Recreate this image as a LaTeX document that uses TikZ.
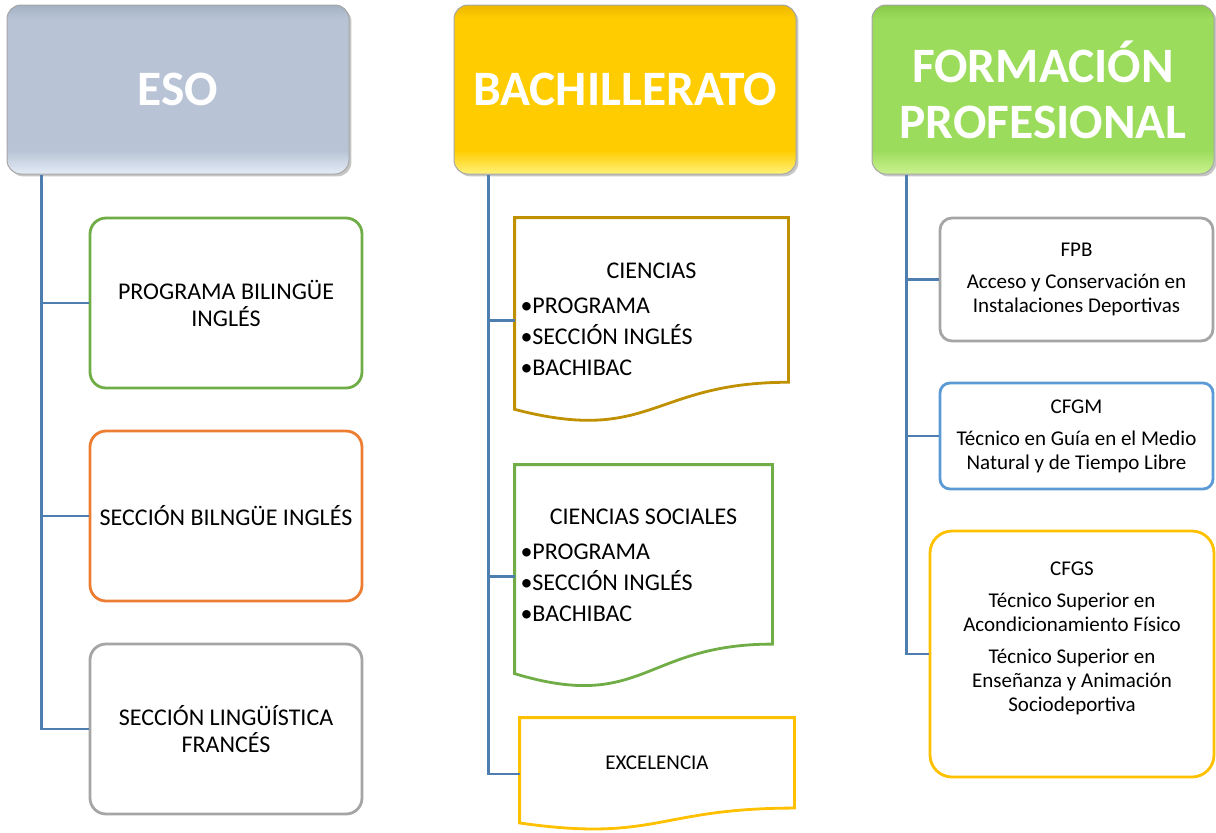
\documentclass[tikz,border=0pt]{standalone}
\usepackage{fontspec}
\setmainfont{Carlito}
\usetikzlibrary{positioning,calc,shadows}

\definecolor{esoB}{HTML}{B8C4D6}
\definecolor{esoT}{HTML}{A3B0C3}
\definecolor{esoL}{HTML}{E4ECF6}
\definecolor{bacB}{HTML}{FFCC00}
\definecolor{bacT}{HTML}{EDB800}
\definecolor{bacL}{HTML}{FFF27A}
\definecolor{fpB}{HTML}{9CDC5C}
\definecolor{fpT}{HTML}{89C94A}
\definecolor{fpL}{HTML}{CBF290}
\definecolor{trunk}{HTML}{4E7EB0}
\definecolor{cgreen}{HTML}{70AD47}
\definecolor{corange}{HTML}{ED7D31}
\definecolor{cgray}{HTML}{A5A5A5}
\definecolor{cgold}{HTML}{BF9000}
\definecolor{cyellow}{HTML}{FFC000}
\definecolor{cblue}{HTML}{5B9BD5}

\pgfdeclareverticalshading{esoshade}{100bp}{color(0bp)=(esoL); color(25bp)=(esoL); color(32bp)=(esoB); color(71bp)=(esoB); color(75bp)=(esoT); color(100bp)=(esoT)}
\pgfdeclareverticalshading{bacshade}{100bp}{color(0bp)=(bacL); color(25bp)=(bacL); color(32bp)=(bacB); color(71bp)=(bacB); color(75bp)=(bacT); color(100bp)=(bacT)}
\pgfdeclareverticalshading{fpshade}{100bp}{color(0bp)=(fpL); color(25bp)=(fpL); color(32bp)=(fpB); color(71bp)=(fpB); color(75bp)=(fpT); color(100bp)=(fpT)}

% wavy "document" outline round a node
\newcommand{\docpath}[2]{%
  \draw[line width=1.4pt, draw=#2] (#1.north west) -- (#1.north east)
    -- ($(#1.north east)!0.802!(#1.south east)$)
    .. controls ($(#1.north)!0.802!(#1.south)$) and ($(#1.north)!1.1075!(#1.south)$)
    .. ($(#1.north west)!0.934!(#1.south west)$) -- cycle;}

\begin{document}
\begin{tikzpicture}[
  x=0.5pt, y=-0.5pt,
  hdr/.style={rounded corners=7pt, minimum width=171pt, minimum height=84.5pt,
    draw=black!35, line width=0.5pt, text=white, align=center,
    font=\fontsize{24.75}{28}\selectfont\bfseries,
    drop shadow={shadow xshift=1.2pt, shadow yshift=-1.2pt, opacity=0.45}},
  esobox/.style={draw=#1, line width=1.4pt, rounded corners=8pt,
    minimum width=136pt, minimum height=85pt, align=center,
    font=\fontsize{12}{13.5}\selectfont},
  docbox/.style={inner sep=0pt},
  doctxt/.style={inner sep=0pt, align=left, font=\fontsize{12}{15.5}\selectfont},
  fpbox/.style={draw=#1, line width=1.4pt, minimum width=136.5pt, align=center,
    font=\fontsize{10.5}{12}\selectfont},
  fptxt/.style={align=center, font=\fontsize{10.5}{12}\selectfont},
  conn/.style={draw=trunk, line width=1.4pt}
]
\useasboundingbox (0,0) rectangle (1216,832);

% headers
\node[hdr, shading=esoshade] (eso) at (178,89.5) {ESO};
\node[hdr, shading=bacshade] (bach) at (625,89.5) {BACHILLERATO};
\node[hdr, shading=fpshade] (fp) at (1043,89.5) {FORMACIÓN\\PROFESIONAL};

% ESO
\node[esobox=cgreen] (e1) at (226,303) {PROGRAMA BILINGÜE\\INGLÉS};
\node[esobox=corange] (e2) at (226,516) {SECCIÓN BILNGÜE INGLÉS};
\node[esobox=cgray] (e3) at (226,729) {SECCIÓN LINGÜÍSTICA\\FRANCÉS};

\draw[conn] ([xshift=17.5pt]eso.south west) |- (e1.west);
\draw[conn] ([xshift=17.5pt]eso.south west) |- (e2.west);
\draw[conn] ([xshift=17.5pt]eso.south west) |- (e3.west);

% Bachillerato
\node[docbox, minimum width=136.5pt, minimum height=102.25pt] (b1) at (651.5,320.25) {};
\node[docbox, minimum width=128.5pt, minimum height=111.5pt] (b2) at (643.5,576.5) {};
\node[docbox, minimum width=137pt, minimum height=56pt] (b3) at (657,774) {};
\docpath{b1}{cgold}
\docpath{b2}{cgreen}
\docpath{b3}{cyellow}

\node[doctxt, text width=131pt] (b1t) at ([yshift=0.5pt]b1.center)
  {\spaceskip=0pt\relax\makebox[131pt]{CIENCIAS}\\[2pt]\textbullet PROGRAMA\\\textbullet SECCIÓN INGLÉS\\\textbullet BACHIBAC};
\node[doctxt, text width=123pt] (b2t) at ([yshift=5.5pt]b2.center)
  {\spaceskip=0pt\relax\makebox[123pt]{CIENCIAS SOCIALES}\\[2pt]\textbullet PROGRAMA\\\textbullet SECCIÓN INGLÉS\\\textbullet BACHIBAC};
\node[fptxt] (b3t) at ([yshift=5.5pt]b3.center) {EXCELENCIA};

\draw[conn] ([xshift=17.5pt]bach.south west) |- (b1.west);
\draw[conn] ([xshift=17.5pt]bach.south west) |- (b2.west);
\draw[conn] ([xshift=17.5pt]bach.south west) |- (b3.west);

% Formacion profesional
\node[fpbox=cgray, rounded corners=6pt, minimum height=61.5pt] (f1) at (1076.5,279.5)
  {FPB\\[4pt]Acceso y Conservación en\\Instalaciones Deportivas};
\node[fpbox=cblue, rounded corners=5pt, minimum height=53pt] (f2) at (1076.5,436)
  {CFGM\\[4pt]Técnico en Guía en el Medio\\Natural y de Tiempo Libre};
\node[fpbox=cyellow, rounded corners=11pt, minimum width=142pt, minimum height=123pt] (f3) at (1072,654) {};
\node[fptxt] (f3t) at ([yshift=7.75pt]f3.center)
  {CFGS\\[4pt]Técnico Superior en\\Acondicionamiento Físico\\[4pt]Técnico Superior en\\Enseñanza y Animación\\Sociodeportiva};

\draw[conn] ([xshift=17.5pt]fp.south west) |- (f1.west);
\draw[conn] ([xshift=17.5pt]fp.south west) |- (f2.west);
\draw[conn] ([xshift=17.5pt]fp.south west) |- (f3.west);

\end{tikzpicture}
\end{document}
